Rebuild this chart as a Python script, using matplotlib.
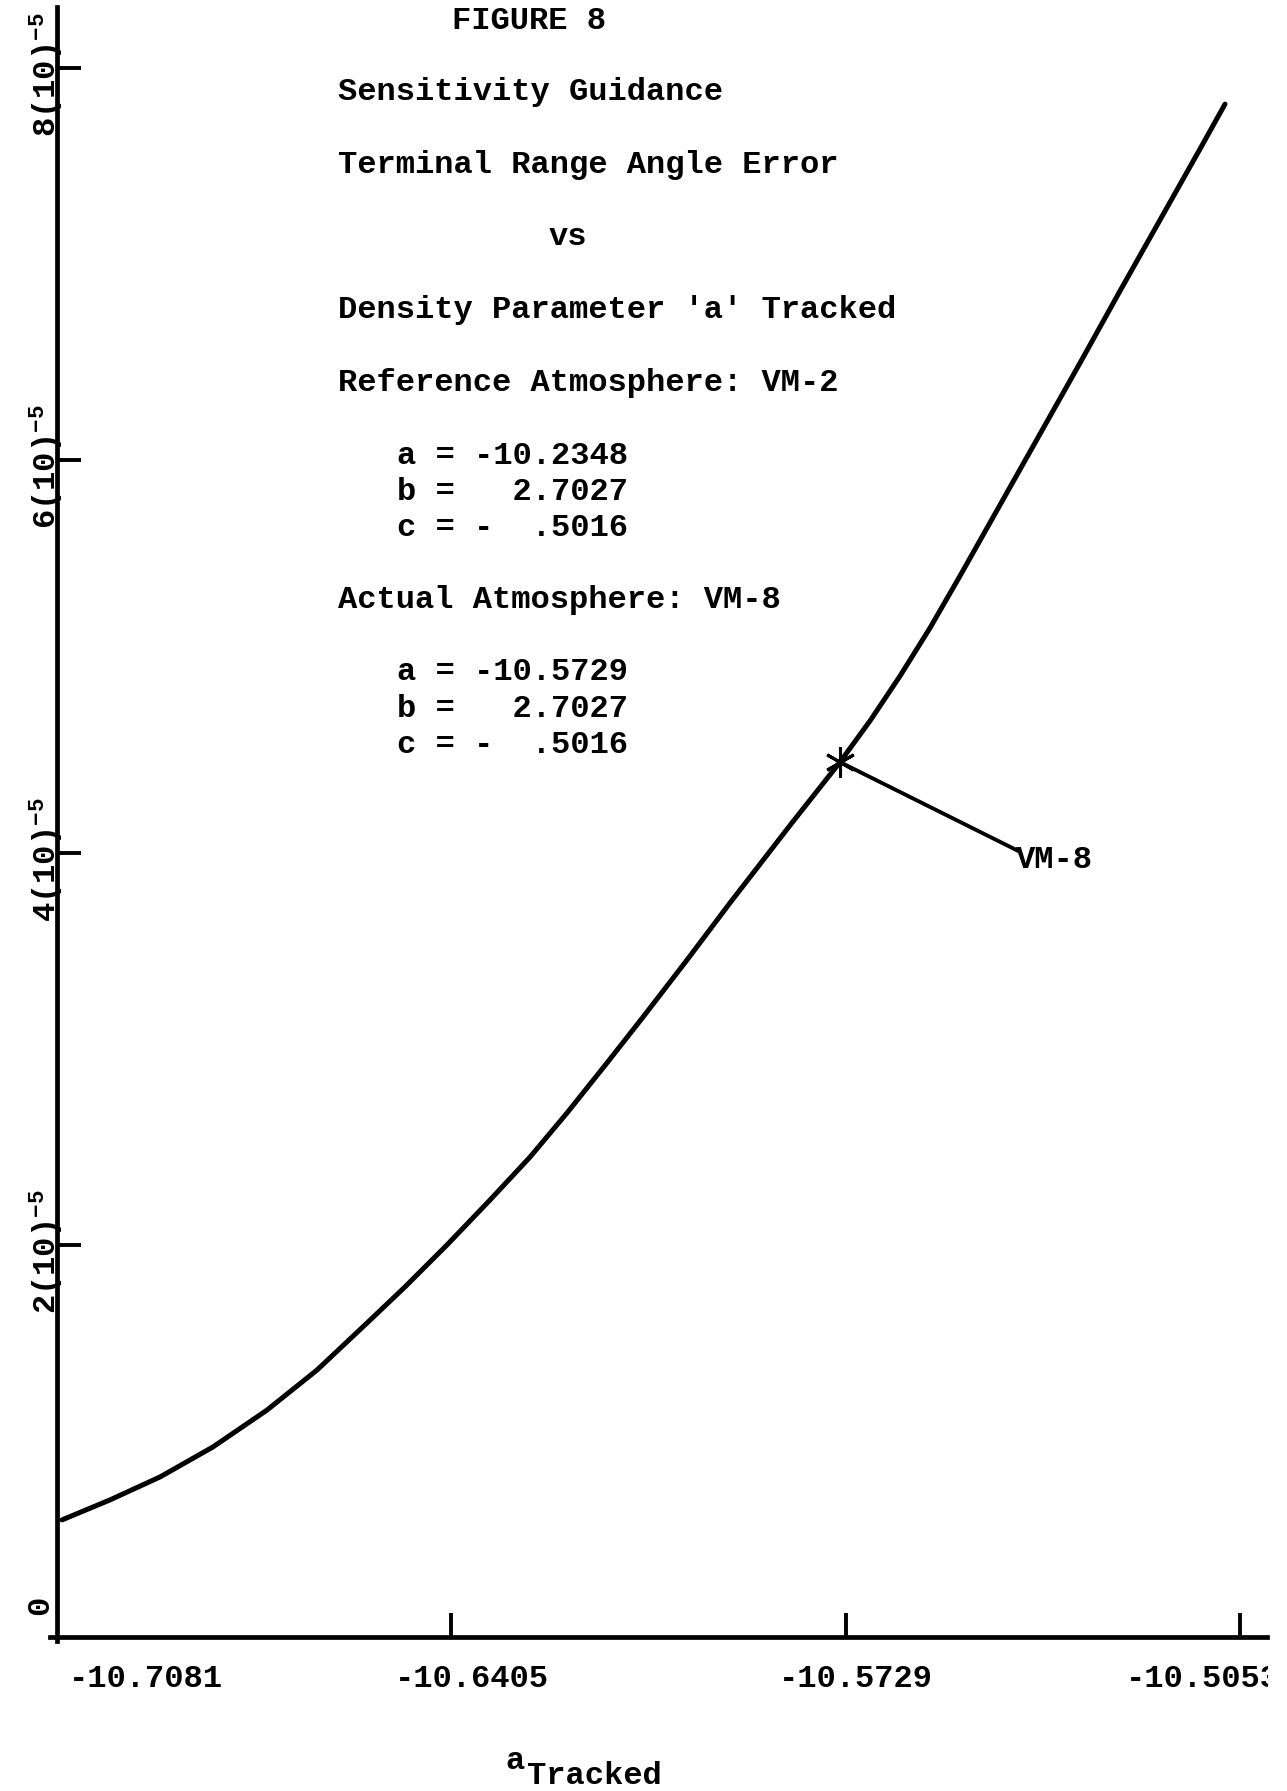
# plot.py
# Figure 8: terminal range angle error vs tracked density parameter 'a'
# (typewriter-style report figure, axes drawn through the origin)

import matplotlib
matplotlib.use("Agg")
import matplotlib.pyplot as plt
from matplotlib.transforms import Bbox

# -------------------- data --------------------
a_tracked = [-10.70724, -10.69901, -10.69044, -10.68136, -10.67210, -10.66353,
             -10.65495, -10.64844, -10.64124, -10.63387, -10.62701, -10.62066,
             -10.61381, -10.60763, -10.60009, -10.59272, -10.58226, -10.57386,
             -10.56872, -10.56357, -10.55843, -10.55329, -10.54643, -10.53957,
             -10.53271, -10.52586, -10.51900, -10.51214, -10.50785]
# range angle error, in units of 10^-5
range_err = [0.597, 0.699, 0.816, 0.969, 1.157, 1.361,
             1.601, 1.785, 1.999, 2.228, 2.447, 2.672,
             2.927, 3.161, 3.452, 3.743, 4.145, 4.461,
             4.671, 4.900, 5.145, 5.410, 5.772, 6.134,
             6.496, 6.863, 7.225, 7.587, 7.816]

x_ticks = [-10.7081, -10.6405, -10.5729, -10.5053]
x_tick_labels = ["-10.7081", "-10.6405", "-10.5729", "-10.5053"]
y_ticks = [0, 2, 4, 6, 8]
y_tick_labels = ["0", "2(10)$^{-5}$", "4(10)$^{-5}$", "6(10)$^{-5}$", "8(10)$^{-5}$"]

vm8_point = (-10.57386, 4.461)     # the '*' on the curve
vm8_label = (-10.5433, 4.008)      # where the leader line ends

title_lines = [
    "Sensitivity Guidance",
    "Terminal Range Angle Error",
    None,  # "vs" is centred separately
    "Density Parameter 'a' Tracked",
    "Reference Atmosphere: VM-2",
]
ref_coeffs = ["a = -10.2348", "b =   2.7027", "c = -  .5016"]
act_coeffs = ["a = -10.5729", "b =   2.7027", "c = -  .5016"]

# -------------------- figure --------------------
W, H, DPI = 1287, 1791, 100
FONT = dict(family="Liberation Mono", weight="bold", size=23.1, color="black")
plt.rcParams["mathtext.fontset"] = "custom"
plt.rcParams["mathtext.rm"] = "Liberation Mono:bold"
plt.rcParams["mathtext.default"] = "rm"

fig = plt.figure(figsize=(W / DPI, H / DPI), dpi=DPI)
fig.patch.set_facecolor("white")

# axes fill the page; limits chosen so the origin sits where the
# hand-drawn axes cross on the scan (about 57 px in, 154 px up)
ax = fig.add_axes([0, 0, 1, 1])
px_per_x = 394.3 / 0.0676
px_per_y = 392.25 / 2.0
x0 = x_ticks[0]
ax.set_xlim(x0 - 57 / px_per_x, x0 + (W - 57) / px_per_x)
ax.set_ylim(-154 / px_per_y, (H - 154) / px_per_y)
ax.set_facecolor("white")

for side in ("top", "right"):
    ax.spines[side].set_visible(False)
ax.spines["left"].set_position(("data", x0))
ax.spines["bottom"].set_position(("data", 0))
ax.spines["left"].set_bounds(-0.02, 8.31)
ax.spines["bottom"].set_bounds(x0 - 0.0012, -10.5007)
for side in ("left", "bottom"):
    ax.spines[side].set_linewidth(3.4)
    ax.spines[side].set_color("black")

ax.set_xticks(x_ticks[1:])
ax.set_yticks(y_ticks[1:])
ax.tick_params(axis="both", direction="in", length=17, width=2.8,
               color="black", labelbottom=False, labelleft=False)

# curve
ax.plot(a_tracked, range_err, color="black", lw=3.6,
        solid_capstyle="round", solid_joinstyle="round")

# VM-8 marker + leader
ax.plot([vm8_point[0]], [vm8_point[1]], marker=(6, 2, 0), ms=22,
        mew=2.2, color="black")
ax.plot([vm8_point[0], vm8_label[0]], [vm8_point[1], vm8_label[1]],
        color="black", lw=2.8)
ax.annotate("VM-8", xy=vm8_label, xytext=(-2, -12), textcoords="offset points",
            ha="left", va="baseline", **FONT)

# x tick labels (typed below the axis, not quite centred on the ticks);
# the scan is cut off at about x = 1268 px, which clips the last one
page_edge = Bbox([[0, 0], [1268, H]])
x_offsets = [64, 15, 7.5, -27]
for xv, lab, dx in zip(x_ticks, x_tick_labels, x_offsets):
    t = ax.annotate(lab, xy=(xv, 0), xytext=(dx, -36), textcoords="offset points",
                    ha="center", va="baseline", annotation_clip=False, **FONT)
    t.set_clip_box(page_edge)
    t.set_clip_on(True)

# y tick labels, typed sideways
for yv, lab in zip(y_ticks, y_tick_labels):
    off = (-1, 23) if yv == 0 else (6.5, -5)
    ax.annotate(lab, xy=(x0, yv), xytext=off, textcoords="offset points",
                ha="right", va="center", rotation=90, **FONT)

# axis title: a with subscript Tracked
fig.text(505 / W, 1 - 1769 / H, "a", ha="left", va="baseline", **FONT)
fig.text(527 / W, 1 - 1784 / H, "Tracked", ha="left", va="baseline", **FONT)

# -------------------- header text block --------------------
fig.text(452 / W, 1 - 29 / H, "FIGURE 8", ha="left", va="baseline", **FONT)
line_y = [100, 173, 245, 318, 391]
for y, txt in zip(line_y, title_lines):
    if txt is None:
        fig.text(549 / W, 1 - y / H, "vs", ha="left", va="baseline", **FONT)
    else:
        fig.text(338 / W, 1 - y / H, txt, ha="left", va="baseline", **FONT)

for y, txt in zip([464, 500, 536], ref_coeffs):
    fig.text(397 / W, 1 - y / H, txt, ha="left", va="baseline", **FONT)

fig.text(338 / W, 1 - 608 / H, "Actual Atmosphere: VM-8",
         ha="left", va="baseline", **FONT)
for y, txt in zip([680, 717, 753], act_coeffs):
    fig.text(397 / W, 1 - y / H, txt, ha="left", va="baseline", **FONT)

fig.savefig("out.png", dpi=DPI, facecolor="white")
